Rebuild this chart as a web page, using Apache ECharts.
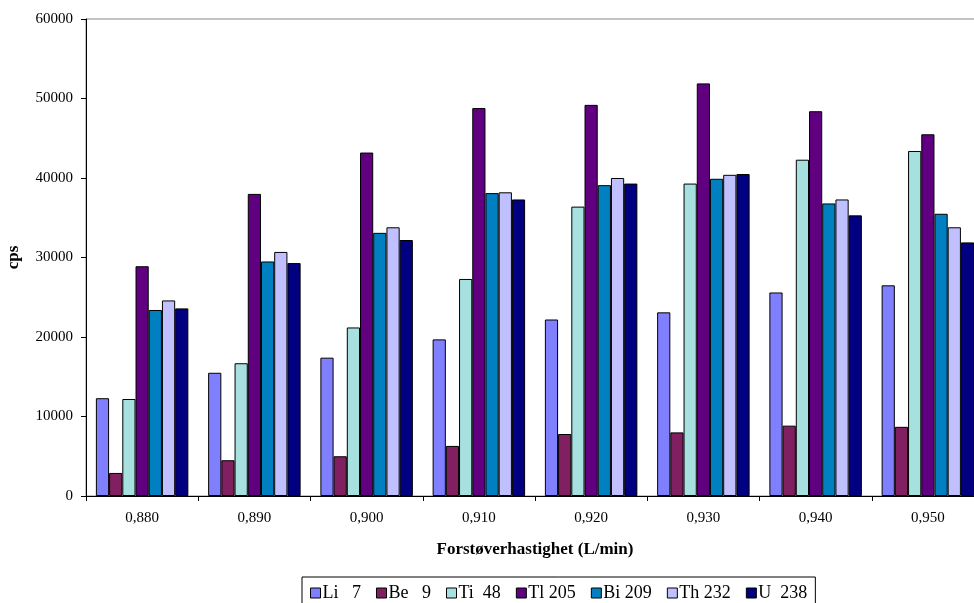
<!DOCTYPE html>
<html>
<head>
<meta charset="utf-8">
<script src="https://cdn.jsdelivr.net/npm/echarts@6/dist/echarts.min.js"></script>
<style>
  html, body { margin: 0; padding: 0; background: #fff; overflow: hidden; }
  /* the plot runs a little past the right edge of the window */
  #chart { width: 984px; height: 603px; }
</style>
</head>
<body>
<div id="chart"></div>
<script>
// Nebulizer flow rates (L/min) on the category axis
const categories = ['0,880', '0,890', '0,900', '0,910', '0,920', '0,930', '0,940', '0,950'];

// Signal intensity (cps) per isotope
const li7   = [12300, 15500, 17400, 19700, 22200, 23100, 25600, 26500];
const be9   = [2900, 4500, 5000, 6300, 7800, 8000, 8850, 8700];
const ti48  = [12200, 16700, 21200, 27300, 36400, 39300, 42300, 43400];
const tl205 = [28900, 38000, 43200, 48800, 49200, 51900, 48400, 45500];
const bi209 = [23400, 29500, 33100, 38100, 39100, 39900, 36800, 35500];
const th232 = [24600, 30700, 33800, 38200, 40000, 40400, 37300, 33800];
const u238  = [23600, 29300, 32200, 37300, 39300, 40500, 35300, 31900];

const seriesNames = ['Li   7', 'Be   9', 'Ti  48', 'Tl 205', 'Bi 209', 'Th 232', 'U  238'];
const seriesData = [li7, be9, ti48, tl205, bi209, th232, u238];
const seriesColors = ['#8080FF', '#802060', '#A6E1E0', '#600080', '#0080C0', '#C0C0FF', '#000080'];

// Y axis ticks
const yMin = 0, yMax = 60000, yStep = 10000;

const serif = '"Liberation Serif", "Times New Roman", serif';

const chart = echarts.init(document.getElementById('chart'), null, { renderer: 'canvas' });

chart.setOption({
  animation: false,
  backgroundColor: '#ffffff',
  grid: {
    left: 86, right: 0, top: 19, bottom: 107,
    containLabel: false,
    outerBoundsMode: 'none',
    show: true, borderColor: '#888888', borderWidth: 1, backgroundColor: 'transparent'
  },
  legend: {
    top: 577, left: 302,
    orient: 'horizontal',
    backgroundColor: '#ffffff',
    borderColor: '#000000', borderWidth: 1, borderRadius: 0,
    padding: [7, 8, 10, 8],
    itemWidth: 10, itemHeight: 10, itemGap: 15,
    icon: 'rect',
    itemStyle: { borderColor: '#000000', borderWidth: 1 },
    textStyle: { fontFamily: serif, fontSize: 18, color: '#000000', padding: [0, 0, 0, -3] },
    data: seriesNames
  },
  xAxis: {
    type: 'category',
    data: categories,
    boundaryGap: true,
    name: 'Forstøverhastighet (L/min)',
    nameLocation: 'middle',
    nameGap: 45,
    nameTextStyle: { fontFamily: serif, fontSize: 17, fontWeight: 'bold', color: '#000000' },
    axisLine: { lineStyle: { color: '#000000', width: 1 } },
    axisTick: { show: true, length: 5, inside: false, lineStyle: { color: '#000000' } },
    axisLabel: { fontFamily: serif, fontSize: 15, color: '#000000', margin: 15 },
    splitLine: { show: false }
  },
  yAxis: {
    type: 'value',
    min: yMin, max: yMax, interval: yStep,
    name: 'cps',
    nameLocation: 'middle',
    nameGap: 64,
    nameTextStyle: { fontFamily: serif, fontSize: 17, fontWeight: 'bold', color: '#000000' },
    axisLine: { show: true, lineStyle: { color: '#000000', width: 1 } },
    axisTick: { show: true, length: 5, inside: false, lineStyle: { color: '#000000' } },
    axisLabel: {
      fontFamily: serif, fontSize: 15, color: '#000000', margin: 13,
      formatter: (v) => String(v)
    },
    splitLine: { show: false }
  },
  series: seriesNames.map((name, i) => ({
    name: name,
    type: 'bar',
    data: seriesData[i],
    barGap: '0%',
    barCategoryGap: '17.6%',
    itemStyle: { color: seriesColors[i], borderColor: '#000000', borderWidth: 1 }
  }))
});
</script>
</body>
</html>
